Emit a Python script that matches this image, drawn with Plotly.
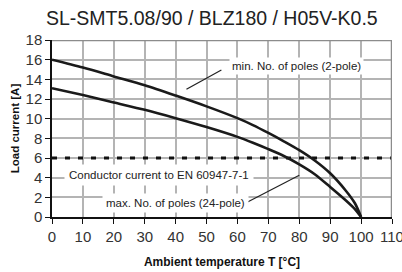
import plotly.graph_objects as go

# Data
temp_upper = [0, 10, 20, 30, 40, 50, 60, 65, 70, 75, 80, 85, 90, 95, 98, 100]
current_upper = [16.0, 15.2, 14.3, 13.4, 12.35, 11.25, 10.05, 9.35, 8.55, 7.7, 6.8, 5.75, 4.45, 2.7, 1.4, 0.0]

temp_lower = [0, 10, 20, 30, 40, 50, 60, 65, 70, 75, 80, 85, 90, 95, 98, 100]
current_lower = [13.1, 12.4, 11.65, 10.9, 10.05, 9.15, 8.15, 7.55, 6.9, 6.2, 5.35, 4.35, 3.05, 1.7, 0.8, 0.0]

conductor_temp = [0, 110]
conductor_current = [6, 6]

x_ticks = list(range(0, 111, 10))
y_ticks = list(range(0, 19, 2))

title_text = "SL-SMT5.08/90 / BLZ180 / H05V-K0.5"
x_title = "Ambient temperature T [°C]"
y_title = "Load current [A]"
label_min = "min. No. of poles (2-pole)"
label_max = "max. No. of poles (24-pole)"
label_cond = "Conductor current to EN 60947-7-1"

FONT = "Liberation Sans, Arial, sans-serif"
GRID = "#b4b4b4"
FRAME = "#8c8c8c"

fig = go.Figure()

fig.add_trace(go.Scatter(x=conductor_temp, y=conductor_current, mode="lines",
                         line=dict(color="#111111", width=3.2, dash="5px,8px"),
                         hoverinfo="skip"))
fig.add_trace(go.Scatter(x=temp_upper, y=current_upper, mode="lines",
                         line=dict(color="#1a1a1a", width=2.6, shape="spline", smoothing=0.8),
                         hoverinfo="skip"))
fig.add_trace(go.Scatter(x=temp_lower, y=current_lower, mode="lines",
                         line=dict(color="#1a1a1a", width=2.6, shape="spline", smoothing=0.8),
                         hoverinfo="skip"))

# gray frame on top and right
fig.add_shape(type="line", xref="x", yref="y", x0=0, x1=110, y0=18, y1=18,
              line=dict(color=FRAME, width=2.5), layer="above")
fig.add_shape(type="line", xref="x", yref="y", x0=110, x1=110, y0=0, y1=18,
              line=dict(color=FRAME, width=2.5), layer="above")

# annotations with white boxes
fig.add_annotation(x=79, y=15.4, text=label_min, showarrow=False,
                   font=dict(family=FONT, size=11.5, color="#222"),
                   bgcolor="white", borderpad=2)
fig.add_annotation(x=34.7, y=4.3, text=label_cond, showarrow=False,
                   font=dict(family=FONT, size=11.5, color="#222"),
                   bgcolor="white", borderpad=4)
fig.add_annotation(x=40, y=1.4, text=label_max, showarrow=False,
                   font=dict(family=FONT, size=11.5, color="#222"),
                   bgcolor="white", borderpad=3)

# leader lines
fig.add_shape(type="line", xref="x", yref="y", x0=43.5, y0=13.0, x1=54.8, y1=14.95,
              line=dict(color="#222", width=1.2))
fig.add_shape(type="line", xref="x", yref="y", x0=62.5, y0=1.4, x1=80, y1=4.25,
              line=dict(color="#222", width=1.2))

fig.update_layout(
    template="none",
    width=402, height=272,
    margin=dict(l=51.5, r=10, t=40, b=55.4),
    paper_bgcolor="white", plot_bgcolor="white",
    showlegend=False,
    title=dict(text=title_text, x=0.527, xanchor="center", y=0.935, yanchor="middle",
               font=dict(family=FONT, size=19.5, color="#222")),
    font=dict(family=FONT, color="#333"),
)

fig.update_xaxes(range=[0, 110], tickvals=x_ticks,
                 showgrid=True, gridcolor=GRID, gridwidth=2,
                 showline=True, linecolor="#111", linewidth=1.5,
                 ticks="outside", ticklen=5, tickcolor="#111", tickwidth=1.2,
                 tickfont=dict(family=FONT, size=15, color="#333"),
                 ticklabeloverflow="allow",
                 zeroline=False,
                 title=dict(text="<b>" + x_title + "</b>", standoff=14,
                            font=dict(family=FONT, size=12, color="#111")))
fig.update_yaxes(range=[0, 18], tickvals=y_ticks,
                 showgrid=True, gridcolor=GRID, gridwidth=2,
                 showline=True, linecolor="#111", linewidth=1.5,
                 ticks="outside", ticklen=5, tickcolor="#111", tickwidth=1.2,
                 tickfont=dict(family=FONT, size=15, color="#333"),
                 ticklabeloverflow="allow",
                 zeroline=False,
                 title=dict(text="<b>" + y_title + "</b>", standoff=4,
                            font=dict(family=FONT, size=11.5, color="#111")))

fig.write_html("out.html", config={"displayModeBar": False},
               post_script="document.body.style.margin='0';")
